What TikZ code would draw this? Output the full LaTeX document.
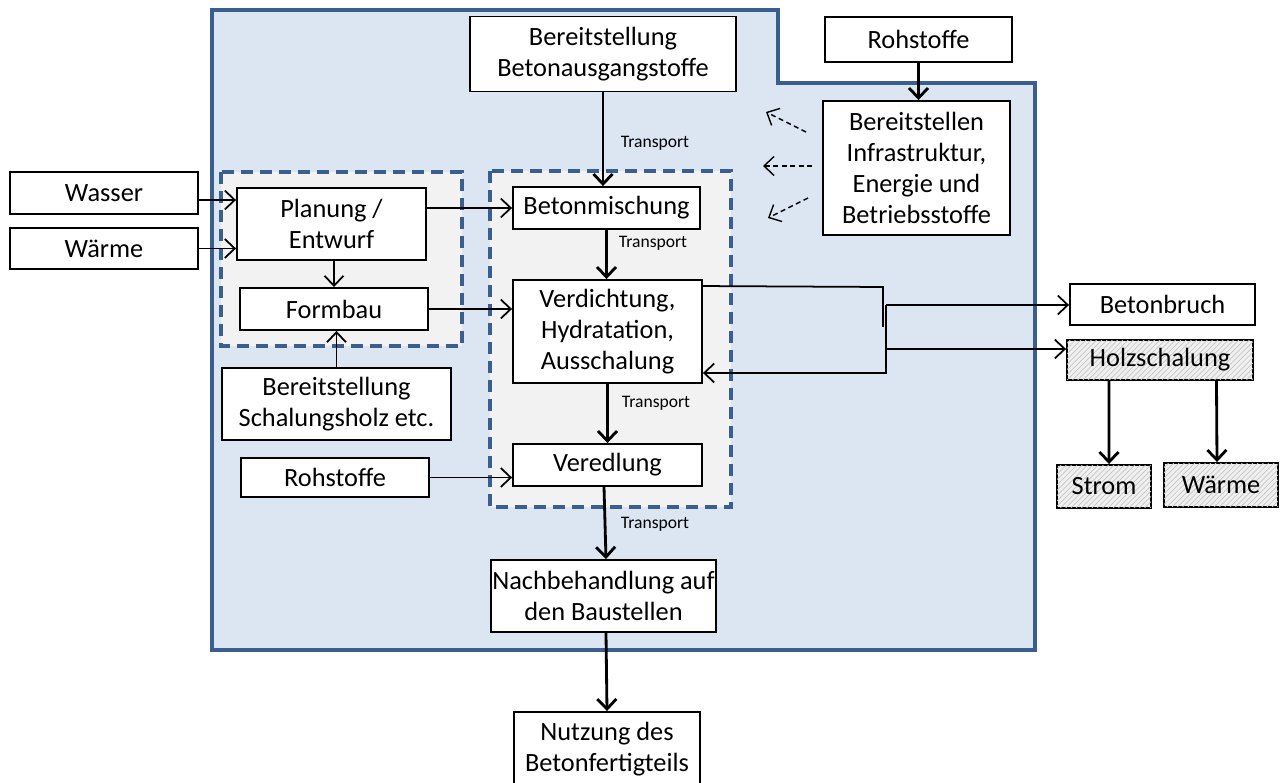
\documentclass[tikz,border=0pt]{standalone}
\usepackage{fontspec}
\setmainfont{Carlito}
\usetikzlibrary{arrows.meta, positioning, patterns}

\definecolor{werkblau}{HTML}{DCE6F2}
\definecolor{randblau}{HTML}{3A5F8F}
\definecolor{gruppgrau}{HTML}{F2F2F2}
\newcommand{\boxfont}{\fontsize{15}{17.5}\selectfont}

\begin{document}
\begin{tikzpicture}[x=0.02cm, y=-0.02cm,
    box/.style={draw, fill=white, line width=1.1pt, align=center, inner sep=1pt, font=\boxfont},
    hatchbox/.style={box, fill=gray!12, postaction={pattern=north east lines, pattern color=gray!45}},
    werk/.style={draw=randblau, fill=werkblau, line width=2pt},
    gruppe/.style={draw=randblau, fill=gruppgrau, line width=2pt, dash pattern=on 0.24cm off 0.14cm},
    tlabel/.style={font=\fontsize{10}{12}\selectfont, inner sep=1pt},
    arr/.style={-{Straight Barb[length=2mm,width=3.8mm]}, line width=1pt},
    thickarr/.style={-{Straight Barb[length=2mm,width=3.8mm]}, line width=1.6pt},
    dasharr/.style={-{Straight Barb[length=2mm,width=3.8mm]}, line width=0.8pt, dash pattern=on 0.1cm off 0.07cm}]
    \useasboundingbox (0,0) rectangle (1282,783);

    % Werk und Gruppen
    \draw[werk] (212,10) -- (778,10) -- (778,83) -- (1035,83) -- (1035,650) -- (212,650) -- cycle;
    \draw[gruppe] (221,172) rectangle (462,346);
    \draw[gruppe] (490,171) rectangle (731,507);

    % Kaesten
    \node (ausgang) [box, minimum width=5.32cm, minimum height=1.5cm] at (603,54) {Bereitstellung\\Betonausgangstoffe};
    \node (rohoben) [box, minimum width=3.74cm, minimum height=0.9cm] at (918.5,39.5) {Rohstoffe};
    \node (infra) [box, minimum width=3.74cm, minimum height=2.68cm] at (916.5,168) {Bereitstellen\\Infrastruktur,\\Energie und\\Betriebsstoffe};
    \node (wasser) [box, minimum width=3.76cm, minimum height=0.84cm] at (104,193) {Wasser};
    \node (waermeL) [box, minimum width=3.76cm, minimum height=0.82cm] at (104,248.5) {Wärme};
    \node (planung) [box, minimum width=3.78cm, minimum height=1.44cm] at (331.5,224) {Planung /\\Entwurf};
    \node (formbau) [box, minimum width=3.76cm, minimum height=0.84cm] at (334,309) {Formbau};
    \node (schalholz) [box, minimum width=4.58cm, minimum height=1.44cm] at (336.5,404) {Bereitstellung\\Schalungsholz etc.};
    \node (rohlinks) [box, minimum width=3.76cm, minimum height=0.78cm] at (335,477.5) {Rohstoffe};
    \node (mischung) [box, minimum width=3.74cm, minimum height=0.84cm] at (606.5,208) {Betonmischung};
    \node (verdicht) [box, minimum width=3.78cm, minimum height=2.06cm] at (607.5,331.5) {Verdichtung,\\Hydratation,\\Ausschalung};
    \node (veredlung) [box, minimum width=3.78cm, minimum height=0.84cm] at (607.5,465) {Veredlung};
    \node (nachbeh) [box, minimum width=4.5cm, minimum height=1.44cm] at (603.5,596) {Nachbehandlung auf\\den Baustellen};
    \node (nutzung) [box, minimum width=3.72cm, minimum height=1.48cm] at (607,749) {Nutzung des\\Betonfertigteils};
    \node (bruch) [box, minimum width=3.7cm, minimum height=0.82cm] at (1162.5,304.5) {Betonbruch};
    \node (holz) [hatchbox, minimum width=3.72cm, minimum height=0.8cm] at (1160,360) {Holzschalung};
    \node (strom) [hatchbox, minimum width=1.88cm, minimum height=0.86cm] at (1104,486.5) {Strom};
    \node (waermeR) [hatchbox, minimum width=2.28cm, minimum height=0.88cm] at (1221,485) {Wärme};

    % Transport
    \node (trans1) [tlabel] at (655,143) {Transport};
    \node (trans2) [tlabel] at (653,243) {Transport};
    \node (trans3) [tlabel] at (656,403) {Transport};
    \node (trans4) [tlabel] at (655,524) {Transport};

    % Hauptstrang
    \draw[thickarr] (ausgang.south) -- (ausgang.south |- mischung.north);
    \draw[thickarr] (mischung.south) -- (mischung.south |- verdicht.north);
    \draw[thickarr] (verdicht.south) -- (veredlung.north);
    \draw[thickarr] ([xshift=-0.07cm]veredlung.south) -- ([xshift=0.05cm]nachbeh.north);
    \draw[thickarr] ([xshift=0.05cm]nachbeh.south) -- (nutzung.north);
    \draw[thickarr] (rohoben.south) -- (rohoben.south |- infra.north);

    % Zufluesse
    \draw[arr] ([yshift=-0.14cm]wasser.east) coordinate (w1) -- (w1 -| planung.west);
    \draw[arr] (waermeL.east) -- (waermeL.east -| planung.west);
    \draw[arr] (mischung.west -| planung.east) -- (mischung.west);
    \draw[arr] (formbau.north |- planung.south) -- (formbau.north);
    \draw[arr] (formbau.east) -- (formbau.east -| verdicht.west);
    \draw[arr] (schalholz.north) -- (schalholz.north |- formbau.south);
    \draw[arr] (rohlinks.east) -- (rohlinks.east -| veredlung.west);

    % Infrastruktur
    \coordinate (inf1) at (806,132);
    \coordinate (inf2) at (812,166);
    \coordinate (inf3) at (808,198);
    \coordinate (ziel1) at (766,112);
    \coordinate (ziel2) at (763,166);
    \coordinate (ziel3) at (768,218);
    \draw[dasharr] (inf1) -- (ziel1);
    \draw[dasharr] (inf2) -- (ziel2);
    \draw[dasharr] (inf3) -- (ziel3);

    % Ausschalung und Reststoffe
    \coordinate (knick) at (883,287);
    \coordinate (knickend) at (883,327);
    \coordinate (split) at (886,305);
    \coordinate (holzein) at ([yshift=0.22cm]holz.west);
    \coordinate (rueck) at ([yshift=-0.83cm]verdicht.east);
    \draw[line width=1pt] ([yshift=-0.14cm]verdicht.north east) -- (knick) -- (knickend);
    \draw[arr] (split) -- (split -| bruch.west);
    \draw[arr] (split |- holzein) -- (holzein);
    \draw[arr] (split) |- (rueck);
    \draw[thickarr] ([xshift=-1.02cm]holz.south) -- ([xshift=0.1cm]strom.north);
    \draw[thickarr] ([xshift=1.13cm]holz.south) -- ([xshift=-0.08cm]waermeR.north);
\end{tikzpicture}
\end{document}
